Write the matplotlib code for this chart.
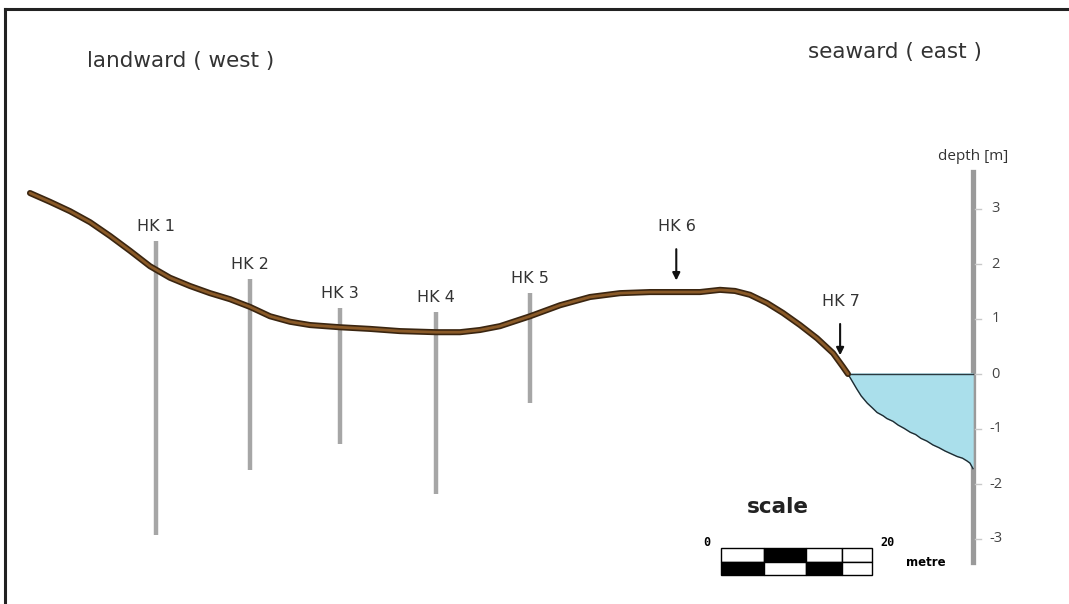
import matplotlib.pyplot as plt
from matplotlib.patches import Rectangle

# ground surface profile: distance [m], elevation [m]
profile_x = [0, 2.65, 5.30, 7.95, 10.60, 13.25, 15.89, 18.54, 21.19, 23.84, 26.49,
             29.14, 31.79, 34.44, 37.09, 41.06, 45.03, 49.01, 53.77, 56.95, 59.60,
             62.25, 66.23, 70.20, 74.17, 78.15, 82.12, 86.09, 88.74, 91.39, 93.38,
             95.36, 97.62, 99.73, 101.99, 104.24, 106.36, 107.68, 108.34]
profile_z = [3.29, 3.13, 2.96, 2.76, 2.51, 2.24, 1.96, 1.75, 1.60, 1.47, 1.36,
             1.22, 1.05, 0.95, 0.89, 0.85, 0.82, 0.78, 0.76, 0.76, 0.80,
             0.87, 1.05, 1.25, 1.40, 1.47, 1.49, 1.49, 1.49, 1.53, 1.51,
             1.44, 1.29, 1.11, 0.89, 0.65, 0.38, 0.13, 0.0]

# sea floor below the water line
seabed_x = [108.34, 108.9, 109.5, 110.1, 110.9, 111.6, 112.2, 113.0, 113.5, 114.3,
            115.0, 115.8, 116.6, 117.3, 118.0, 118.8, 119.6, 120.4, 121.2, 122.0,
            122.8, 123.5, 124.1, 124.5, 124.9]
seabed_z = [0.0, -0.13, -0.27, -0.40, -0.53, -0.62, -0.70, -0.76, -0.81, -0.86,
            -0.93, -0.99, -1.06, -1.10, -1.17, -1.22, -1.29, -1.34, -1.40, -1.45,
            -1.50, -1.53, -1.58, -1.62, -1.72]

# boreholes drilled as cores
core_names = ["HK 1", "HK 2", "HK 3", "HK 4", "HK 5"]
core_x = [16.7, 29.1, 41.1, 53.8, 66.2]
core_top = [2.42, 1.73, 1.20, 1.13, 1.47]
core_bottom = [-2.93, -1.75, -1.27, -2.18, -0.53]

# sample points marked with arrows
arrow_names = ["HK 6", "HK 7"]
arrow_x = [85.6, 107.3]
arrow_z = [1.65, 0.29]

depth_ticks = [3, 2, 1, 0, -1, -2, -3]
axis_x = 124.9

# scale bar segments [m]
scale_edges = [0, 5.7, 11.3, 16.0, 20.0]
scale_top = ["w", "k", "w", "w"]
scale_bottom = ["k", "w", "k", "w"]

px_per_m = 7.55
px_per_z = 55.0

fig = plt.figure(figsize=(10.69, 6.04), dpi=100)
ax = fig.add_axes([0, 0, 1, 1])
ax.set_xlim(-30 / px_per_m, (1069 - 30) / px_per_m)
ax.set_ylim((374 - 604) / px_per_z, 374 / px_per_z)
ax.axis("off")

# frame on top and left only
fig.add_artist(plt.Line2D([0.005, 1.0], [0.985, 0.985], color="#222222", lw=2.2))
fig.add_artist(plt.Line2D([0.005, 0.005], [0.0, 0.985], color="#222222", lw=2.2))

sans = ["DejaVu Sans"]

# water body
water_x = seabed_x + [axis_x]
water_z = seabed_z + [0.0]
ax.fill(water_x, water_z, color="#aadfeb", zorder=2)
ax.plot(seabed_x, seabed_z, color="#1f2a30", lw=1.0, zorder=3)
ax.plot([seabed_x[0], axis_x], [0, 0], color="#2a3a40", lw=1.0, zorder=3)

# boreholes
for name, x, top, bot in zip(core_names, core_x, core_top, core_bottom):
    ax.plot([x, x], [bot, top], color="#a6a6a6", lw=3.2, solid_capstyle="butt", zorder=1)
    ax.text(x, top + 0.26, name, ha="center", va="center", fontsize=11.5,
            family=sans, color="#333333")

# ground surface
ax.plot(profile_x, profile_z, color="#3a2510", lw=4.4, solid_capstyle="round",
        solid_joinstyle="round", zorder=4)
ax.plot(profile_x, profile_z, color="#8a5a28", lw=2.0, solid_capstyle="round",
        solid_joinstyle="round", zorder=5)

# arrows
for name, x, z in zip(arrow_names, arrow_x, arrow_z):
    ax.annotate("", xy=(x, z), xytext=(x, z + 0.67),
                arrowprops=dict(arrowstyle="-|>", color="#111111", lw=1.5,
                                mutation_scale=11), zorder=6)
    ax.text(x + 0.1, z + 1.03, name, ha="center", va="center", fontsize=11.5,
            family=sans, color="#333333")

# depth axis
ax.plot([axis_x, axis_x], [-3.42, 3.67], color="#9a9a9a", lw=3.8, zorder=1)
for t in depth_ticks:
    ax.plot([axis_x + 0.3, axis_x + 1.1], [t, t], color="#c8c8c8", lw=1.0, zorder=1)
    ax.text(axis_x + 3.0, t, str(t), ha="center", va="center", fontsize=10.5,
            family=["Open Sans", "DejaVu Sans"], color="#444444")
ax.text(axis_x, 3.95, "depth [m]", ha="center", va="center", fontsize=11,
        family=["Open Sans", "DejaVu Sans"], color="#333333")

# orientation labels
ax.text(20.0, 5.7, "landward ( west )", ha="center", va="center", fontsize=15.5,
        family=sans, color="#333333")
ax.text(114.6, 5.85, "seaward ( east )", ha="center", va="center", fontsize=15.5,
        family=sans, color="#333333")

# scale bar
x0 = 91.5
h = 0.24
base = -3.65
for i in range(len(scale_top)):
    w = scale_edges[i + 1] - scale_edges[i]
    ax.add_patch(Rectangle((x0 + scale_edges[i], base + h), w, h, facecolor=scale_top[i],
                           edgecolor="black", lw=1.0, zorder=6))
    ax.add_patch(Rectangle((x0 + scale_edges[i], base), w, h,
                           facecolor=scale_bottom[i], edgecolor="black", lw=1.0, zorder=6))
ax.text(x0 + 7.5, -2.42, "scale", ha="center", va="center", fontsize=15.5,
        family=sans, weight="bold", color="#222222")
ax.text(x0 - 1.9, -3.07, "0", ha="center", va="center", fontsize=8.5,
        family="DejaVu Sans Mono", weight="bold")
ax.text(x0 + 22.1, -3.07, "20", ha="center", va="center", fontsize=8.5,
        family="DejaVu Sans Mono", weight="bold")
ax.text(x0 + 27.1, -3.42, "metre", ha="center", va="center", fontsize=8.5,
        family="DejaVu Sans", weight="bold")

fig.savefig("out.png", dpi=100)
